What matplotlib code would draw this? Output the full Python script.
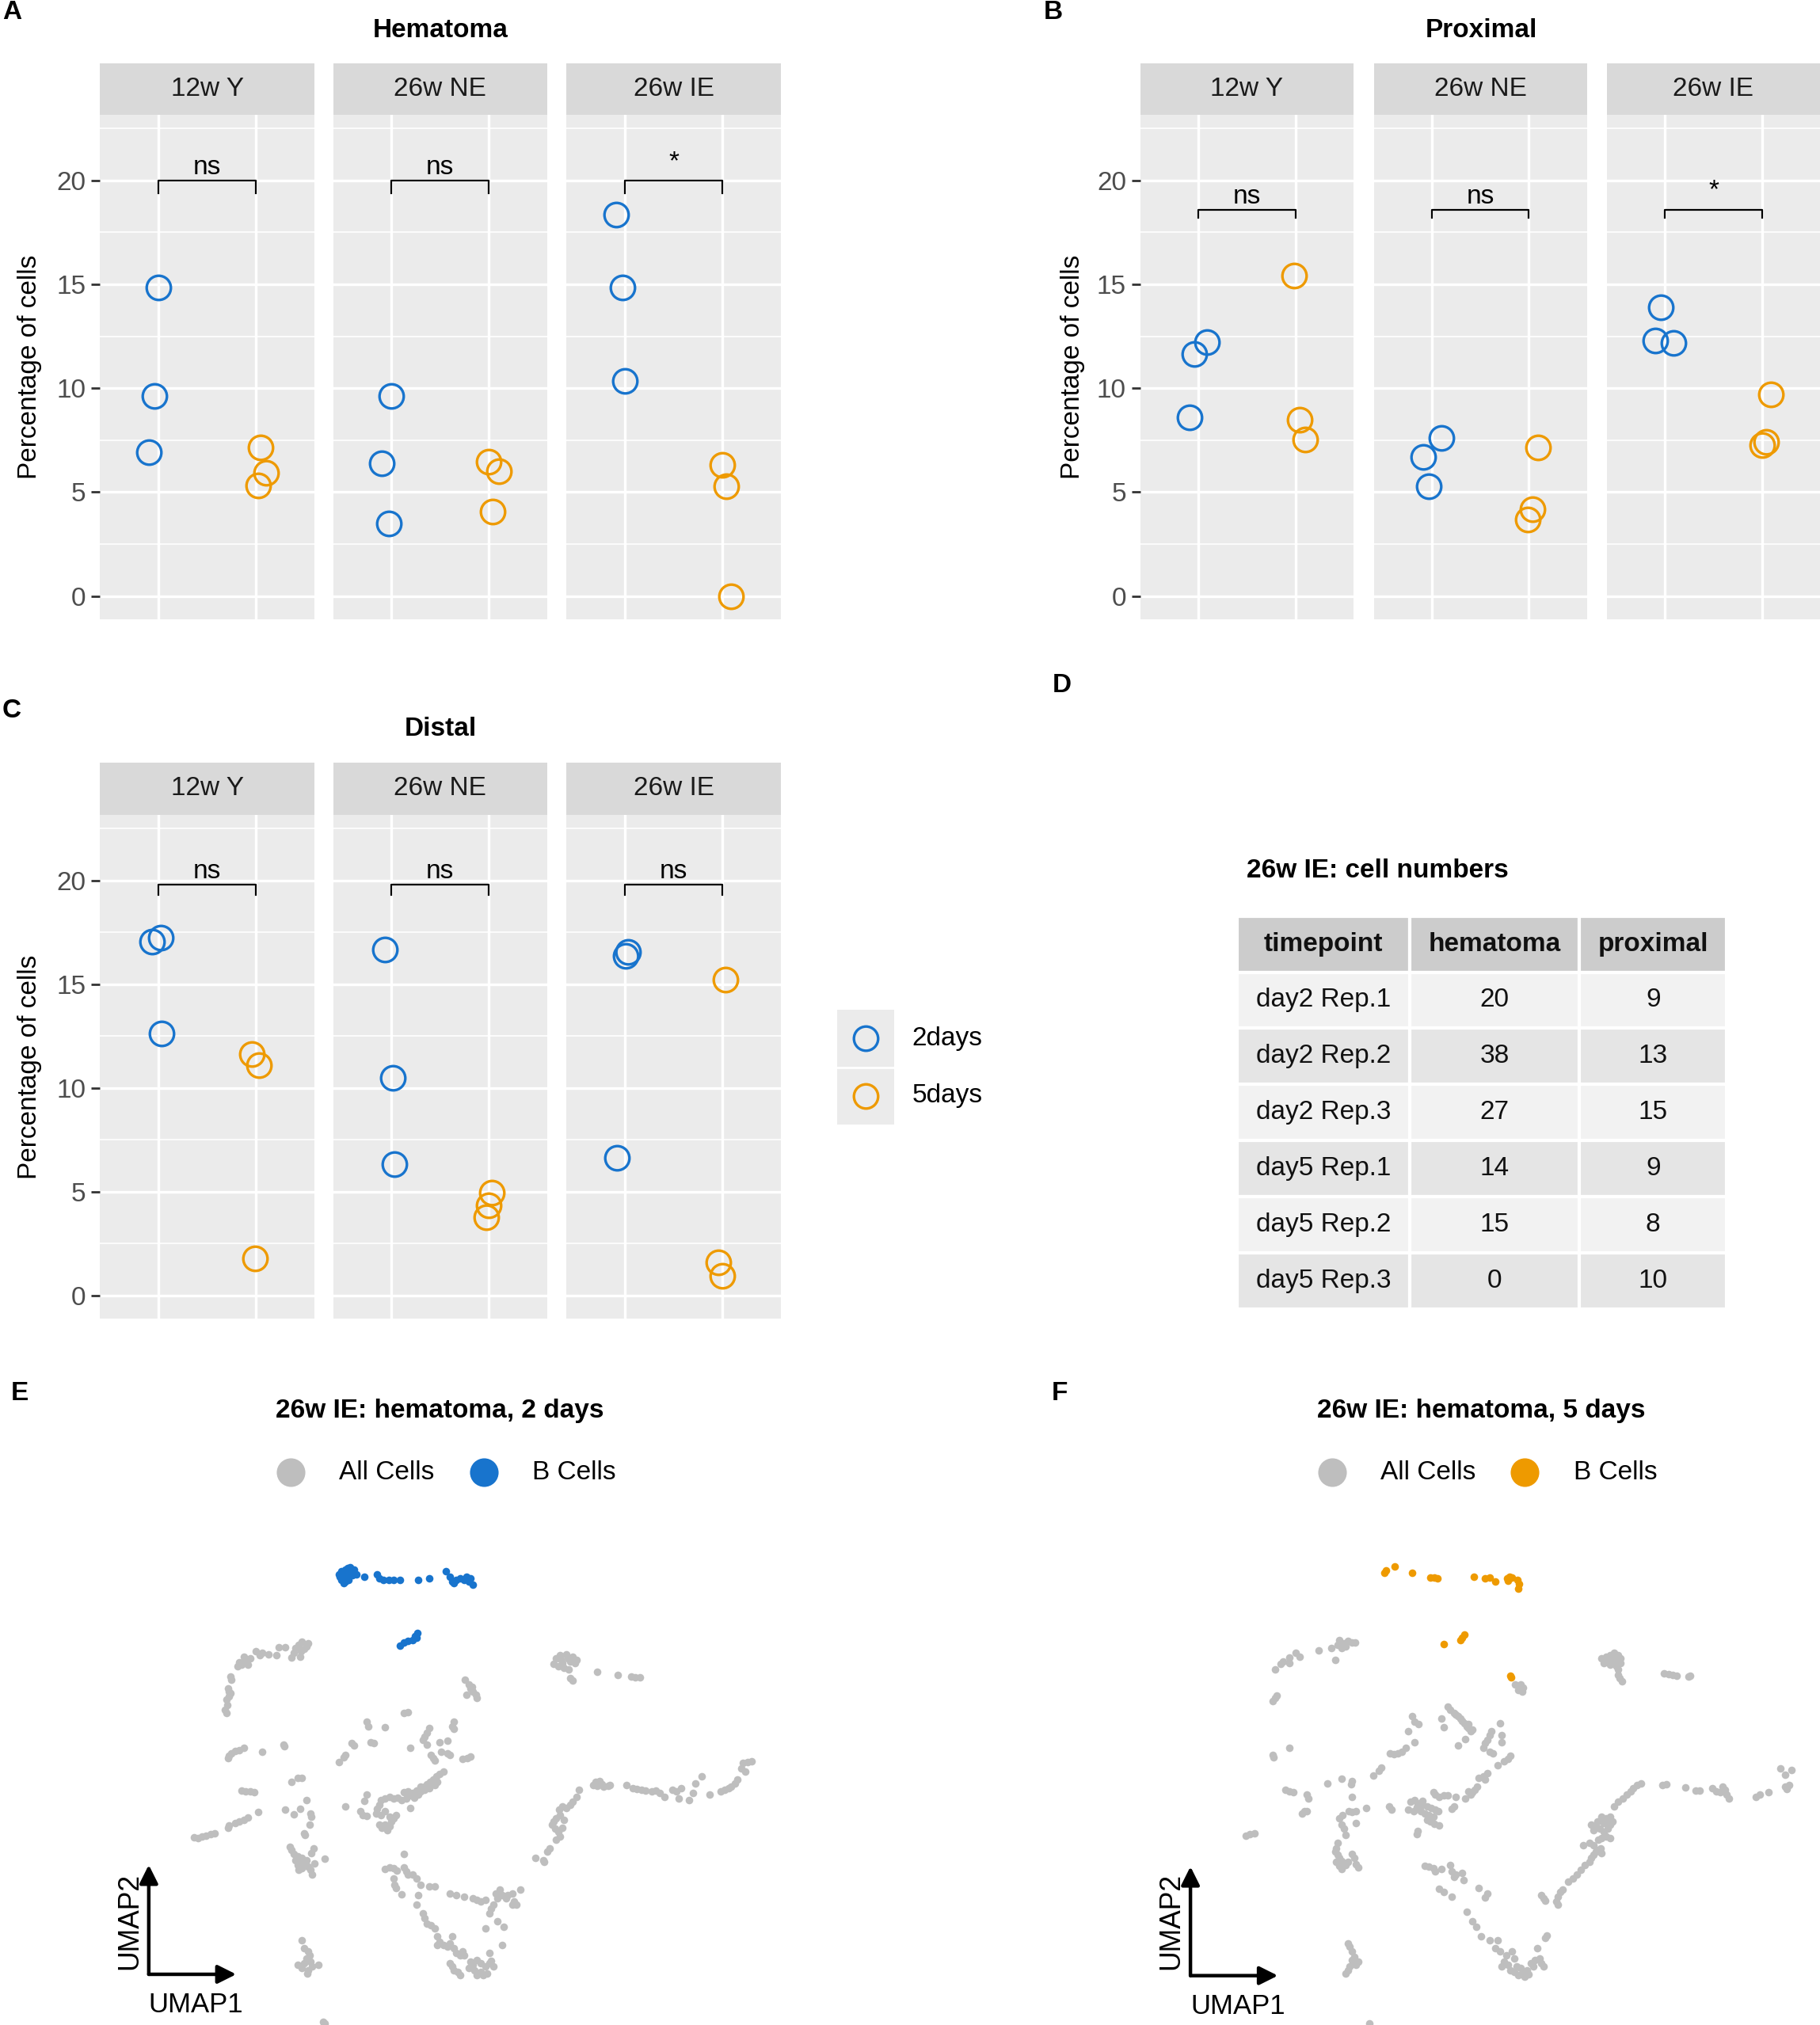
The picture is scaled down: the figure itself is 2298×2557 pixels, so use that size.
import matplotlib
matplotlib.use("Agg")
import matplotlib.pyplot as plt
from matplotlib.lines import Line2D

plt.rcParams['font.family'] = ['Liberation Sans', 'DejaVu Sans']

W, H = 2298, 2557
DPI = 200

facets = ["12w Y", "26w NE", "26w IE"]
groups = ["2days", "5days"]
COL_2D = "#1874CD"
COL_5D = "#EE9A00"
GREY = "#BEBEBE"

# A: hematoma, % of cells per replicate (one list per facet)
hem_2days = [[14.86, 9.64, 6.94], [9.64, 6.37, 3.48], [18.34, 14.86, 10.36]]
hem_5days = [[7.16, 5.92, 5.34], [6.47, 6.02, 4.07], [6.31, 5.30, 0.0]]
hem_jit_2days = [[0.0, -0.04, -0.10], [0.0, -0.10, -0.03], [-0.09, -0.03, 0.0]]
hem_jit_5days = [[0.05, 0.10, 0.02], [0.0, 0.10, 0.04], [0.0, 0.04, 0.09]]
hem_signif = ["ns", "ns", "*"]

# B: proximal
prox_2days = [[8.60, 11.65, 12.22], [7.62, 6.69, 5.28], [13.90, 12.28, 12.18]]
prox_5days = [[15.41, 8.47, 7.53], [7.16, 4.16, 3.68], [9.70, 7.43, 7.25]]
prox_jit_2days = [[-0.09, -0.04, 0.09], [0.10, -0.09, -0.03], [-0.04, -0.10, 0.09]]
prox_jit_5days = [[-0.01, 0.04, 0.10], [0.10, 0.04, -0.01], [0.09, 0.04, 0.0]]
prox_signif = ["ns", "ns", "*"]

# C: distal
dist_2days = [[17.06, 17.26, 12.65], [16.66, 10.51, 6.35], [16.56, 16.36, 6.65]]
dist_5days = [[11.65, 11.11, 1.78], [4.94, 4.34, 3.78], [15.22, 1.58, 0.94]]
dist_jit_2days = [[-0.07, 0.02, 0.03], [-0.07, 0.01, 0.03], [0.03, 0.01, -0.08]]
dist_jit_5days = [[-0.04, 0.03, -0.01], [0.03, 0.0, -0.03], [0.03, -0.04, 0.0]]
dist_signif = ["ns", "ns", "ns"]

# D: cell numbers table
tab_cols = ["timepoint", "hematoma", "proximal"]
timepoint = ["day2 Rep.1", "day2 Rep.2", "day2 Rep.3", "day5 Rep.1", "day5 Rep.2", "day5 Rep.3"]
hematoma_n = [20, 38, 27, 14, 15, 0]
proximal_n = [9, 13, 15, 9, 8, 10]

# E: UMAP (arbitrary units), hematoma 2 days
e_all_cells = [
    (440, 410), (455, 415), (450, 425), (445, 432), (432, 420), (425, 430), (438, 440), (420, 445), (415, 458),
    (435, 455), (400, 428), (385, 428), (378, 450), (360, 448), (345, 445), (338, 450), (330, 440), (315, 460),
    (305, 465), (300, 470), (290, 472), (295, 480), (285, 485), (310, 480), (300, 455), (268, 515), (270, 525),
    (262, 550), (268, 565), (265, 575), (258, 585), (260, 600), (255, 615), (258, 625), (265, 560),
    (1050, 460), (1060, 450), (1075, 448), (1090, 455), (1100, 465), (1085, 470), (1065, 475), (1045, 478),
    (1055, 485), (1070, 490), (1080, 495), (1095, 475), (1078, 460), (1062, 462), (1085, 520), (1090, 528),
    (1150, 500), (1198, 510), (1230, 515), (1240, 517), (1252, 517),
    (832, 525), (840, 540), (845, 550), (850, 560), (835, 570), (858, 570), (860, 580), (848, 545),
    (685, 625), (695, 622), (595, 650), (600, 665), (640, 668), (745, 670), (740, 685), (735, 695), (805, 650),
    (800, 665), (805, 672), (730, 705), (740, 720), (700, 728), (770, 712), (790, 708), (560, 715), (565, 722),
    (605, 712), (612, 715), (395, 720), (398, 725), (345, 740), (300, 730), (290, 735), (280, 738), (270, 745),
    (265, 752), (262, 760), (545, 750), (540, 758), (528, 772), (750, 750), (755, 760), (760, 768), (775, 740),
    (790, 745), (795, 750), (825, 762), (838, 760), (845, 755),
    (780, 800), (770, 808), (762, 815), (755, 825), (748, 832), (740, 838), (745, 850), (735, 855), (725, 860),
    (715, 858), (705, 865), (695, 860), (685, 862), (720, 870), (710, 878), (700, 872), (690, 880), (680, 885),
    (670, 878), (660, 880), (650, 875), (640, 882), (630, 885), (625, 900), (620, 912), (618, 925), (630, 930),
    (640, 920), (650, 935), (660, 940), (665, 930), (655, 950), (640, 960), (625, 960), (632, 968), (645, 975),
    (650, 965), (700, 910), (765, 830), (735, 845), (760, 840), (725, 845),
    (415, 830), (430, 820), (440, 818), (295, 858), (305, 860), (315, 860), (325, 862), (595, 870), (590, 888),
    (545, 905), (580, 918), (585, 930), (595, 932), (400, 915), (420, 928), (435, 912), (460, 925), (462, 935),
    (450, 885), (335, 922), (310, 938), (300, 945), (290, 950), (280, 955), (265, 962), (262, 968), (230, 985),
    (220, 988), (210, 992), (200, 995), (190, 1000), (180, 998), (458, 960), (448, 990), (445, 985),
    (410, 1025), (415, 1035), (420, 1048), (430, 1055), (440, 1060), (435, 1070), (445, 1075), (450, 1065),
    (430, 1080), (440, 1090), (455, 1085), (460, 1095), (465, 1108), (432, 1095), (425, 1065), (468, 1030),
    (470, 1075), (495, 1062), (462, 1045),
    (685, 1048), (640, 1092), (650, 1088), (660, 1090), (668, 1098), (685, 1088), (690, 1100), (695, 1110),
    (705, 1108), (715, 1120), (660, 1120), (662, 1140), (665, 1150), (680, 1168), (725, 1140), (720, 1170),
    (745, 1145), (760, 1145), (715, 1200), (730, 1225), (735, 1240), (740, 1255), (750, 1262), (760, 1270),
    (765, 1295), (770, 1310), (800, 1295), (795, 1315), (790, 1325), (780, 1320), (765, 1320), (805, 1330),
    (810, 1345), (820, 1350), (825, 1338), (830, 1350), (795, 1375), (800, 1385), (805, 1395), (815, 1400),
    (820, 1410), (840, 1390), (850, 1380), (855, 1395), (860, 1410), (870, 1400), (875, 1410), (885, 1405),
    (845, 1370), (860, 1365), (870, 1375), (880, 1385), (890, 1375), (895, 1368), (900, 1385), (890, 1345),
    (920, 1320), (880, 1270), (910, 1250), (925, 1265), (890, 1225), (895, 1210), (900, 1200), (910, 1180),
    (905, 1165), (915, 1155), (920, 1170), (930, 1180), (935, 1170), (945, 1165), (950, 1190), (955, 1200),
    (945, 1200), (965, 1155), (870, 1190), (860, 1185), (880, 1185), (810, 1170), (795, 1165), (830, 1175),
    (850, 1180),
    (440, 1305), (445, 1330), (455, 1340), (450, 1360), (460, 1370), (445, 1375), (430, 1380), (440, 1390),
    (455, 1395), (465, 1385), (480, 1380), (458, 1350), (452, 1405), (490, 1550), (495, 1555),
    (1000, 1060), (1020, 1065), (1022, 1072), (1030, 1040), (1035, 1030), (1050, 1005), (1060, 995),
    (1055, 980), (1048, 970), (1040, 960), (1045, 950), (1050, 940), (1060, 930), (1065, 968), (1070, 945),
    (1058, 915), (1065, 905), (1075, 910), (1085, 900), (1090, 890), (1100, 875), (1105, 855),
    (1145, 830), (1150, 842), (1155, 828), (1160, 838), (1165, 845), (1175, 842), (1180, 840), (1140, 840),
    (1220, 840), (1235, 850), (1245, 852), (1255, 855), (1265, 858), (1280, 860), (1290, 858), (1300, 865),
    (1310, 875), (1330, 855), (1340, 860), (1350, 850), (1345, 880), (1370, 885), (1380, 865), (1385, 835),
    (1400, 815), (1420, 868), (1445, 860), (1455, 855), (1465, 850), (1470, 845), (1480, 835), (1485, 825),
    (1495, 790), (1500, 775), (1510, 772), (1520, 770), (1505, 800),
]
e_b_cells = [
    (530, 215), (538, 205), (545, 195), (555, 188), (560, 200), (548, 212), (535, 225), (540, 235), (552, 225),
    (562, 212), (528, 210), (545, 230), (555, 205), (565, 195), (542, 218), (550, 190), (535, 200), (570, 210),
    (590, 215), (620, 210), (625, 222), (635, 225), (648, 225), (660, 225), (675, 225), (720, 225), (745, 220),
    (785, 200), (795, 215), (800, 230), (810, 225), (820, 220), (830, 225), (840, 230), (845, 220), (850, 240),
    (835, 215), (805, 235),
    (675, 422), (685, 412), (695, 408), (705, 405), (715, 398), (718, 385), (712, 395),
]

# F: UMAP, hematoma 5 days
f_all_cells = [
    (440, 405), (450, 415), (460, 408), (470, 412), (455, 425), (445, 430), (435, 420), (420, 430), (478, 412),
    (430, 465), (390, 438), (345, 455), (335, 445), (320, 458), (320, 475), (305, 470), (298, 478), (285, 495),
    (290, 572), (285, 580), (280, 590), (280, 750), (282, 758), (320, 730),
    (1070, 460), (1080, 455), (1090, 450), (1100, 445), (1110, 450), (1115, 460), (1100, 468), (1085, 470),
    (1075, 475), (1090, 480), (1105, 485), (1110, 495), (1115, 475), (1095, 460), (1110, 510), (1112, 520),
    (1118, 530), (1220, 505), (1230, 508), (1240, 510), (1250, 512), (1278, 515), (1282, 512),
    (862, 540), (875, 538), (880, 548), (870, 555), (878, 560),
    (700, 605), (705, 615), (715, 625), (720, 630), (730, 640), (735, 648), (725, 635), (740, 655), (745, 665),
    (750, 670), (755, 680), (760, 675), (750, 658), (615, 635), (620, 650), (630, 658), (685, 640), (690, 668),
    (825, 655), (805, 680), (800, 690), (795, 705), (790, 715), (785, 730), (800, 740), (808, 745), (830, 690),
    (830, 712), (742, 702), (725, 722), (605, 680), (620, 712), (600, 730), (590, 740), (580, 745), (570, 748),
    (562, 745), (850, 752), (845, 762), (835, 770), (820, 780), (540, 788), (535, 798), (522, 812), (410, 835),
    (445, 822), (470, 828), (468, 838), (310, 855), (320, 860), (330, 862), (362, 868), (365, 882), (470, 875),
    (795, 805), (785, 815), (775, 818), (790, 825), (770, 845), (765, 855), (760, 862), (755, 870), (750, 860),
    (742, 880), (720, 875), (700, 872), (665, 862), (670, 870), (680, 875), (690, 872),
    (610, 890), (620, 885), (628, 895), (640, 900), (650, 905), (660, 910), (670, 915), (678, 920), (605, 915),
    (618, 918), (635, 920), (645, 925), (655, 930), (665, 935), (650, 945), (658, 950), (668, 958), (680, 962),
    (625, 908), (640, 888), (710, 912), (715, 905), (560, 905), (565, 915), (505, 910), (462, 918), (470, 922),
    (480, 920), (448, 930), (440, 940), (445, 960), (450, 970), (455, 990), (480, 955), (355, 920), (350, 925),
    (362, 918), (628, 978), (625, 988), (215, 992), (225, 988), (235, 985),
    (435, 1015), (432, 1030), (430, 1040), (435, 1050), (440, 1058), (445, 1068), (450, 1075), (440, 1082),
    (445, 1092), (455, 1080), (460, 1070), (470, 1048), (475, 1060), (480, 1078), (485, 1088), (432, 1070),
    (645, 1082), (655, 1085), (665, 1090), (670, 1100), (685, 1092), (705, 1080), (710, 1100), (720, 1110),
    (735, 1105), (738, 1125), (715, 1115), (680, 1152), (690, 1162), (710, 1175), (775, 1150), (795, 1165),
    (790, 1178), (745, 1220), (760, 1250), (768, 1265), (780, 1295), (800, 1305), (820, 1305), (815, 1330),
    (825, 1340), (840, 1350), (855, 1340), (860, 1360), (835, 1370), (845, 1380), (850, 1395), (860, 1400),
    (865, 1385), (875, 1390), (880, 1400), (890, 1395), (870, 1410), (885, 1415), (895, 1408), (830, 1385),
    (900, 1375), (910, 1365), (920, 1360), (925, 1375), (930, 1385), (905, 1385), (915, 1330), (938, 1292),
    (935, 1298), (925, 1170), (930, 1180), (935, 1188), (965, 1200), (960, 1190), (965, 1175), (970, 1160),
    (975, 1155),
    (460, 1315), (465, 1325), (470, 1340), (475, 1355), (470, 1365), (475, 1375), (465, 1385), (460, 1395),
    (455, 1405), (480, 1380), (485, 1370), (512, 1555),
    (990, 1130), (1000, 1120), (1010, 1110), (1020, 1095), (1030, 1080), (1040, 1070), (1045, 1060),
    (1050, 1050), (1055, 1040), (1060, 1035), (1070, 1045), (1068, 1030), (1025, 1022), (1040, 1015),
    (1050, 1020), (1062, 1005), (1070, 1000), (1080, 995), (1090, 1000), (1075, 980), (1085, 970), (1090, 960),
    (1095, 950), (1080, 940), (1060, 950), (1045, 960), (1055, 965), (1065, 970), (1075, 955), (1085, 945),
    (1050, 975), (1070, 935), (1090, 935), (1100, 905), (1110, 890), (1120, 880), (1130, 870), (1140, 860),
    (1145, 850), (1155, 840), (1165, 835),
    (1215, 840), (1225, 838), (1270, 848), (1295, 858), (1305, 858), (1335, 850), (1345, 860), (1355, 862),
    (1365, 855), (1360, 845), (1370, 868), (1375, 880), (1440, 875), (1450, 870), (1470, 862), (1500, 790),
    (1510, 810), (1525, 795), (1510, 845), (1515, 852), (1520, 840),
]
f_b_cells = [
    (548, 205), (552, 198), (572, 185), (615, 205), (658, 218), (668, 218), (675, 220), (762, 215), (790, 222),
    (800, 218), (815, 230), (842, 222), (848, 215), (855, 218), (845, 228), (868, 225), (872, 238), (870, 252),
    (690, 418), (730, 405), (735, 398), (740, 390), (850, 512), (852, 518),
]


def fx(px):
    return px / W


def fy(py):
    return 1 - py / H


fig = plt.figure(figsize=(W / DPI, H / DPI), dpi=DPI)


def panel_letter(letter, x, y):
    fig.text(fx(x), fy(y), letter, fontsize=12, fontweight="bold", ha="left", va="center")


def dot_panel(x_starts, width, strip_top, top, bottom, vals2, vals5, jit2, jit5,
              signif, br_y, tip, title, title_x, title_y, ylab_x):
    fig.text(fx(title_x), fy(title_y), title, fontsize=12, fontweight="bold", ha="center", va="center")
    fig.text(fx(ylab_x), fy((top + bottom) / 2), "Percentage of cells", fontsize=12,
             rotation=90, ha="center", va="center")
    for i, name in enumerate(facets):
        x0 = x_starts[i]
        sax = fig.add_axes([fx(x0), fy(top), width / W, (top - strip_top) / H])
        sax.set_facecolor("#D9D9D9")
        sax.set_xticks([])
        sax.set_yticks([])
        for s in sax.spines.values():
            s.set_visible(False)
        sax.text(0.5, 0.5, name, transform=sax.transAxes, ha="center", va="center",
                 fontsize=12, color="#1A1A1A")

        ax = fig.add_axes([fx(x0), fy(bottom), width / W, (bottom - top) / H])
        ax.set_facecolor("#EBEBEB")
        ax.set_xlim(0.4, 2.6)
        ax.set_ylim(-1.12, 23.16)
        ax.set_xticks([1, 2])
        ax.set_yticks([0, 5, 10, 15, 20])
        ax.set_yticks([2.5, 7.5, 12.5, 17.5, 22.5], minor=True)
        ax.grid(True, which="major", color="white", lw=1.2)
        ax.grid(True, which="minor", axis="y", color="white", lw=0.6)
        ax.set_axisbelow(True)
        for s in ax.spines.values():
            s.set_visible(False)
        ax.tick_params(axis="x", length=0, labelbottom=False)
        ax.tick_params(axis="y", which="minor", length=0)
        if i == 0:
            ax.tick_params(axis="y", which="major", length=4, width=1, color="#333333",
                           labelsize=12, labelcolor="#4D4D4D", pad=2.5)
        else:
            ax.tick_params(axis="y", which="major", length=0, labelleft=False)

        for pos, vals, jit, col in [(1, vals2[i], jit2[i], COL_2D), (2, vals5[i], jit5[i], COL_5D)]:
            xs = [pos + j for j in jit]
            ax.plot(xs, vals, "o", mfc="none", mec=col, ms=11, mew=1.2, linestyle="none",
                    clip_on=False)

        ax.plot([1, 1, 2, 2], [br_y - tip, br_y, br_y, br_y - tip], color="black", lw=0.8)
        lab = signif[i]
        off = 0.9 if lab == "*" else 0.62
        ax.text(1.5, br_y + off, lab, ha="center", va="center", fontsize=12)


# A / B / C
dot_panel([126.3, 420.5, 715.4], 270.8, 79.5, 145, 782, hem_2days, hem_5days,
          hem_jit_2days, hem_jit_5days, hem_signif, 20.0, 0.6, "Hematoma", 556, 38.5, 38)
dot_panel([1440, 1734.5, 2029], 269, 79.5, 145, 782, prox_2days, prox_5days,
          prox_jit_2days, prox_jit_5days, prox_signif, 18.6, 0.4, "Proximal", 1870, 38.5, 1354)
dot_panel([126.3, 420.5, 715.4], 270.8, 962.5, 1029.2, 1665.2, dist_2days, dist_5days,
          dist_jit_2days, dist_jit_5days, dist_signif, 19.82, 0.5, "Distal", 556.7, 920.4, 37.5)
panel_letter("A", 3, 15)
panel_letter("B", 1318, 15)
panel_letter("C", 3, 898)

# legend for the dot plots
lax = fig.add_axes([fx(1056.7), fy(1419.8), 72.5 / W, 144.6 / H])
lax.set_facecolor("#EBEBEB")
lax.set_xlim(0, 1)
lax.set_ylim(2, 0)
lax.set_xticks([])
lax.set_yticks([])
for s in lax.spines.values():
    s.set_visible(False)
lax.axhline(1, color="white", lw=1)
for k, (g, col) in enumerate(zip(groups, [COL_2D, COL_5D])):
    lax.plot([0.5], [k + 0.5], "o", mfc="none", mec=col, ms=11, mew=1.2)
    lax.text(1.31, k + 0.5, g, ha="left", va="center", fontsize=12, clip_on=False)

# D: table
panel_letter("D", 1329, 866)
fig.text(fx(1573.8), fy(1099.6), "26w IE: cell numbers", fontsize=12, fontweight="bold",
         ha="left", va="center")
tax = fig.add_axes([fx(1562.3), fy(1653.1), (2180.2 - 1562.3) / W, (1653.1 - 1156.6) / H])
tax.axis("off")
cell_text = [[t, str(h), str(p)] for t, h, p in zip(timepoint, hematoma_n, proximal_n)]
col_w = [217.5, 214.6, 185.8]
tot = sum(col_w)
tbl = tax.table(cellText=cell_text, colLabels=tab_cols, cellLoc="center",
                colWidths=[c / tot for c in col_w], bbox=[0, 0, 1, 1])
tbl.auto_set_font_size(False)
tbl.set_fontsize(12)
for (r, c), cell in tbl.get_celld().items():
    cell.set_edgecolor("white")
    cell.set_linewidth(1.5)
    if r == 0:
        cell.set_facecolor("#CCCCCC")
        cell.get_text().set_fontweight("bold")
    elif r % 2 == 1:
        cell.set_facecolor("#F2F2F2")
    else:
        cell.set_facecolor("#E5E5E5")
    cell.get_text().set_color("#111111")


# E / F: UMAP
def umap_panel(x0, all_pts, b_pts, bcol, title, title_x, dot_xs, text_xs, corner, up_y, right_x,
               lab2_x, lab1_xy):
    fig.text(fx(title_x), fy(1781.7), title, fontsize=12, fontweight="bold", ha="center", va="center")
    for dx, tx, col, lab in zip(dot_xs, text_xs, [GREY, bcol], ["All Cells", "B Cells"]):
        fig.add_artist(Line2D([fx(dx)], [fy(1859)], marker="o", ms=12, color=col,
                              linestyle="none", transform=fig.transFigure))
        fig.text(fx(tx), fy(1859), lab, fontsize=12, ha="left", va="center")

    ax = fig.add_axes([fx(x0), 0, 820 / W, 657 / H])
    ax.set_xlim(0, 1560)
    ax.set_ylim(1560, 0)
    ax.axis("off")
    u1 = [p[0] for p in all_pts]
    u2 = [p[1] for p in all_pts]
    ax.scatter(u1, u2, s=12, color=GREY, linewidths=0, clip_on=False)
    b1 = [p[0] for p in b_pts]
    b2 = [p[1] for p in b_pts]
    ax.scatter(b1, b2, s=12, color=bcol, linewidths=0, clip_on=False)

    arrow = dict(arrowstyle="-|>,head_length=0.5,head_width=0.25", lw=1.6, color="black",
                 shrinkA=0, shrinkB=0, mutation_scale=14)
    ax.annotate("", xy=(corner[0], up_y), xytext=corner, arrowprops=arrow)
    ax.annotate("", xy=(right_x, corner[1]), xytext=corner, arrowprops=arrow)
    ax.text(lab2_x, 1250, "UMAP2", rotation=90, ha="center", va="center", fontsize=12.8)
    ax.text(lab1_xy[0], lab1_xy[1], "UMAP1", ha="center", va="center", fontsize=12.5)


panel_letter("E", 14, 1759)
umap_panel(150, e_all_cells, e_b_cells, COL_2D, "26w IE: hematoma, 2 days", 555.5,
           [367, 610.5], [428, 672], (72, 1408), 1080, 282, 27, (185, 1500))
panel_letter("F", 1328, 1759)
umap_panel(1460, f_all_cells, f_b_cells, COL_5D, "26w IE: hematoma, 5 days", 1870,
           [1682, 1925], [1743, 1986.7], (82, 1412), 1085, 292, 35, (197, 1505))

fig.savefig("out.png", dpi=DPI, facecolor="white")
